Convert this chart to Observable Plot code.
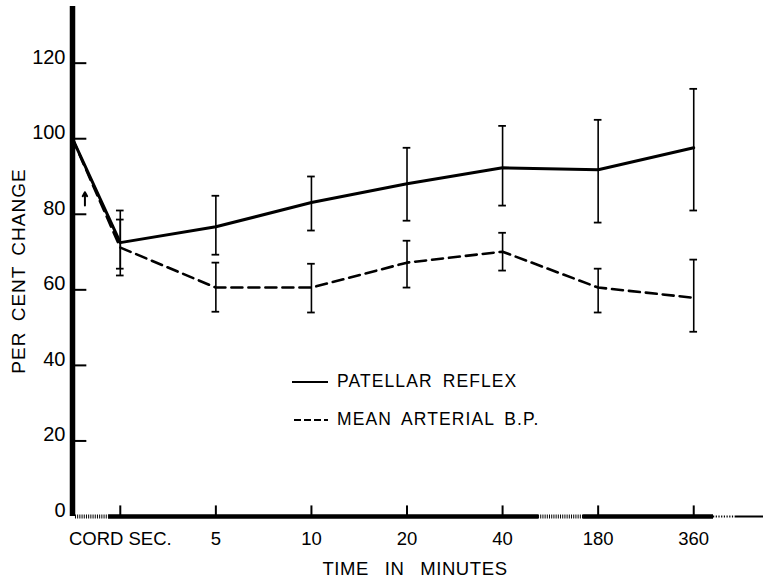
<!DOCTYPE html>
<html>
<head>
<meta charset="utf-8">
<script src="https://cdn.jsdelivr.net/npm/d3@7"></script>
<script src="https://cdn.jsdelivr.net/npm/@observablehq/plot@0.6"></script>
<style>
  html, body { margin: 0; padding: 0; background: #fff; }
  #chart { width: 763px; height: 579px; }
  svg text { font-family: "Liberation Sans", Arial, sans-serif; }
</style>
</head>
<body>
<div id="chart"></div>
<script>
// ---- data ----
const timeLabels = ["CORD SEC.", "5", "10", "20", "40", "180", "360"];
const timeIndex = [0, 1, 2, 3, 4, 5, 6];
const preIndex = -0.5;           // control (pre-section) point on the axis
const preValue = 100;
const patellar   = [72.5, 76.7, 83.1, 88.1, 92.3, 91.8, 97.6];
const patellarHi = [81.0, 84.9, 90.0, 97.6, 103.4, 105.0, 113.2];
const patellarLo = [63.8, 69.3, 75.7, 78.3, 82.3, 77.8, 81.0];
const mapBP      = [71.2, 60.6, 60.6, 67.2, 70.1, 60.6, 57.9];
const mapHi      = [78.6, 67.2, 66.9, 73.0, 75.1, 65.6, 68.0];
const mapLo      = [65.6, 54.2, 54.0, 60.6, 65.1, 54.0, 48.9];
const yTicks = [0, 20, 40, 60, 80, 100, 120];
// small upward arrow annotation next to the axis (x, from y, to y)
const arrowNote = [{x: -0.37, y1: 82.3, y2: 85.8}];
// axis break positions (x units)
const solidSegs = [[-0.123, 4.376], [4.847, 6.207]];
const dottedSegs = [[-0.469, -0.123], [4.376, 4.847]];
const thinDotted = [[6.207, 6.437]];
const thinSolid = [[6.437, 6.73]];

// ---- tables ----
const patTable = [{x: preIndex, y: preValue}, ...timeIndex.map((x, i) => ({x, y: patellar[i]}))];
const mapTable = [{x: preIndex, y: preValue}, ...timeIndex.map((x, i) => ({x, y: mapBP[i]}))];
const errTable = [
  ...timeIndex.map((x, i) => ({x, lo: patellarLo[i], hi: patellarHi[i]})),
  ...timeIndex.map((x, i) => ({x, lo: mapLo[i], hi: mapHi[i]}))
];
const capW = 0.04;
const caps = errTable.flatMap(d => [{x: d.x, y: d.lo}, {x: d.x, y: d.hi}]);
const tickTable = timeIndex.map((x, i) => ({x, label: timeLabels[i]}));
const segs = a => a.map(([a1, a2]) => ({x1: a1, x2: a2}));

const plot = Plot.plot({
  width: 763,
  height: 579,
  marginLeft: 72,
  marginRight: 0,
  marginTop: 6,
  marginBottom: 63,
  x: {domain: [-0.5, 6.73], axis: null},
  y: {domain: [0, 135], axis: null},
  style: {background: "white", overflow: "visible"},
  marks: [
    // error bars
    Plot.ruleX(errTable, {x: "x", y1: "lo", y2: "hi", stroke: "black", strokeWidth: 1.6}),
    Plot.ruleY(caps, {y: "y", x1: d => d.x - capW, x2: d => d.x + capW, stroke: "black", strokeWidth: 1.8}),
    // lines
    Plot.line(mapTable, {x: "x", y: "y", stroke: "black", strokeWidth: 2.6, strokeDasharray: "11,6"}),
    Plot.line(patTable, {x: "x", y: "y", stroke: "black", strokeWidth: 3}),
    // y axis
    Plot.ruleX([preIndex], {y1: 0, y2: 135, stroke: "black", strokeWidth: 5.5}),
    Plot.ruleY(yTicks.filter(v => v > 0), {y: d => d, x1: preIndex, x2: preIndex + 0.15, stroke: "black", strokeWidth: 2}),
    Plot.text(yTicks, {x: preIndex, y: d => d, text: d => String(d), textAnchor: "end", dx: -7, dy: -6, fontSize: 20, fill: "black"}),
    // x axis
    Plot.ruleY(segs(solidSegs), {y: 0, x1: "x1", x2: "x2", stroke: "black", strokeWidth: 4.5}),
    Plot.ruleY(segs(dottedSegs), {y: 0, x1: "x1", x2: "x2", stroke: "black", strokeWidth: 4, strokeDasharray: "1,1.2"}),
    Plot.ruleY(segs(thinDotted), {y: 0, x1: "x1", x2: "x2", stroke: "black", strokeWidth: 2, strokeDasharray: "1.2,1.5"}),
    Plot.ruleY(segs(thinSolid), {y: 0, x1: "x1", x2: "x2", stroke: "black", strokeWidth: 2}),
    Plot.ruleX(tickTable, {x: "x", y1: 0, y2: 2.8, stroke: "black", strokeWidth: 2}),
    Plot.text(tickTable, {x: "x", y: 0, text: "label", dy: 23, fontSize: 18.5, fill: "black"}),
    // small arrow annotation near the axis
    Plot.arrow(arrowNote, {x: "x", y1: "y1", y2: "y2", stroke: "black", strokeWidth: 2, headLength: 4})
  ]
});

document.getElementById("chart").appendChild(plot);

const svg = d3.select(plot);
// axis titles
svg.append("text")
  .attr("transform", "translate(20,271) rotate(-90)")
  .attr("text-anchor", "middle").attr("dominant-baseline", "middle")
  .attr("font-size", 19).attr("letter-spacing", 1).attr("word-spacing", 4)
  .attr("fill", "black")
  .text("PER CENT CHANGE");
svg.append("text")
  .attr("x", 415).attr("y", 570)
  .attr("text-anchor", "middle").attr("dominant-baseline", "middle")
  .attr("font-size", 18.5).attr("letter-spacing", 0.6).attr("word-spacing", 10)
  .attr("fill", "black")
  .text("TIME IN MINUTES");

// legend
const leg = svg.append("g");
leg.append("line").attr("x1", 292).attr("x2", 328).attr("y1", 382).attr("y2", 382)
  .attr("stroke", "black").attr("stroke-width", 2.2);
leg.append("line").attr("x1", 294).attr("x2", 328).attr("y1", 420).attr("y2", 420)
  .attr("stroke", "black").attr("stroke-width", 2.2).attr("stroke-dasharray", "7,3");
leg.append("text").attr("x", 337).attr("y", 382).attr("dominant-baseline", "middle")
  .attr("text-anchor", "start").attr("fill", "black")
  .attr("font-size", 17.5).attr("letter-spacing", 1.1).attr("word-spacing", 4)
  .text("PATELLAR REFLEX");
leg.append("text").attr("x", 337).attr("y", 420).attr("dominant-baseline", "middle")
  .attr("text-anchor", "start").attr("fill", "black")
  .attr("font-size", 17.5).attr("letter-spacing", 1.1).attr("word-spacing", 4)
  .text("MEAN ARTERIAL B.P.");
</script>
</body>
</html>
